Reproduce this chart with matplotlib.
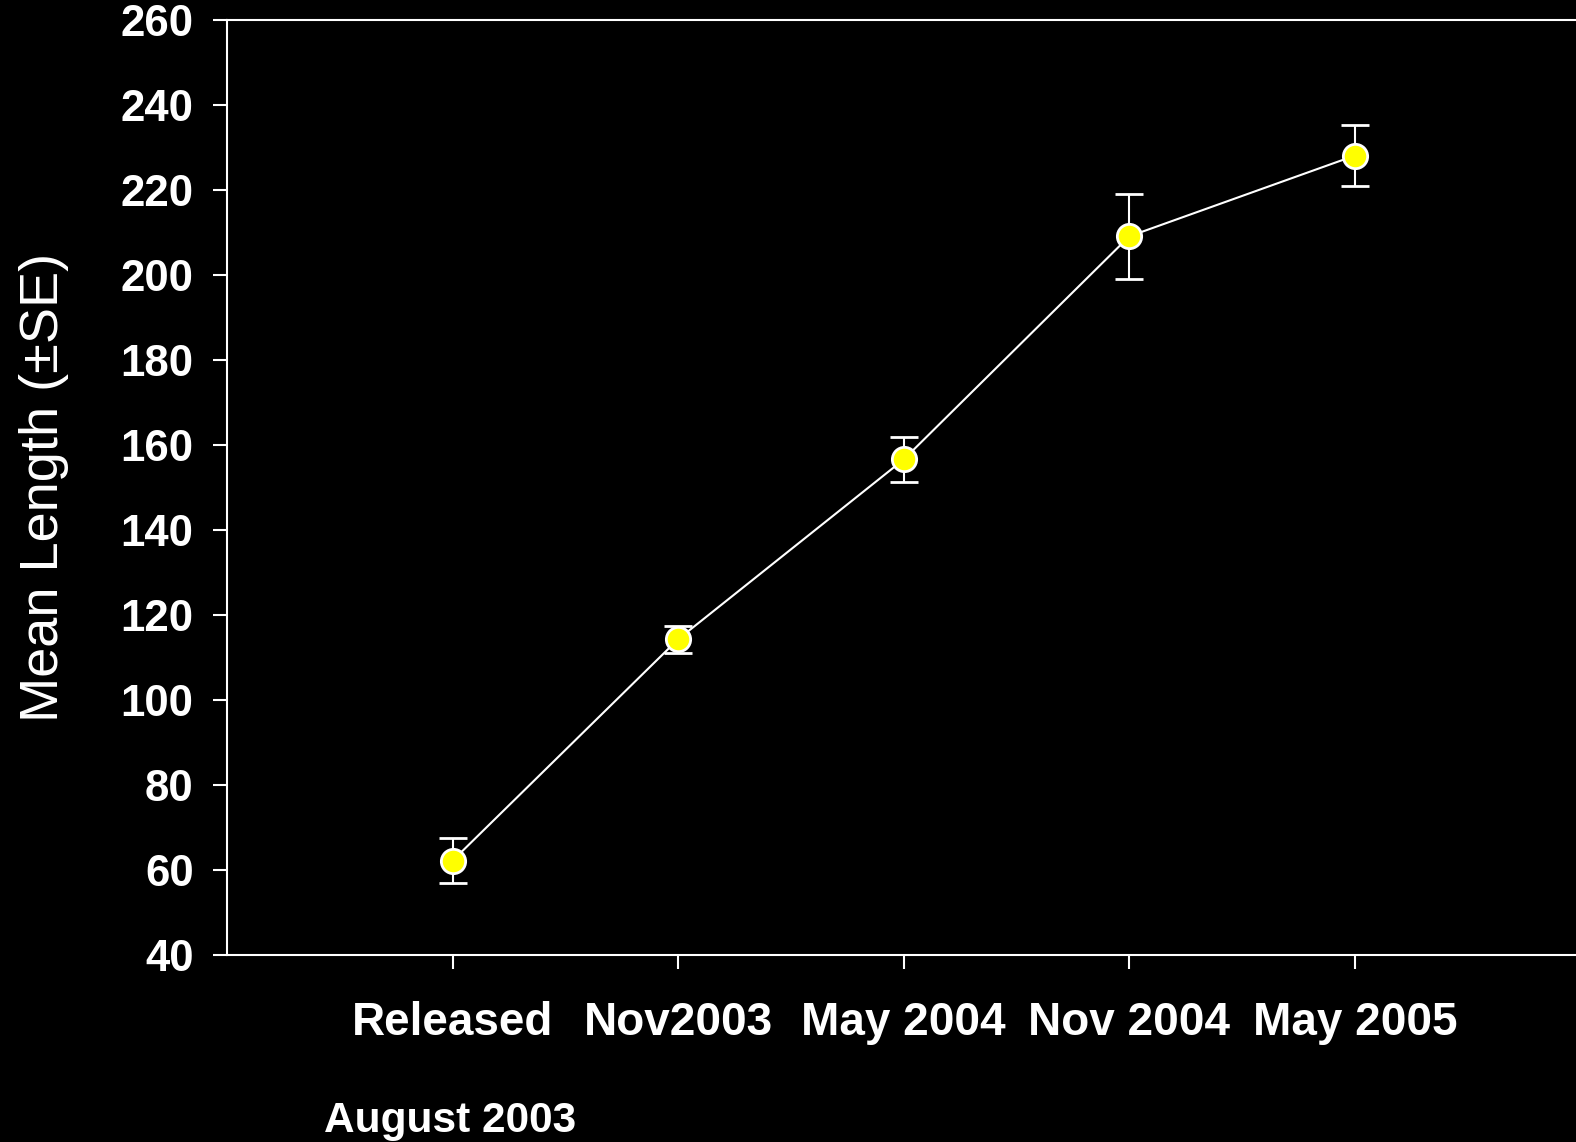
import matplotlib
matplotlib.use('Agg')
import matplotlib.pyplot as plt
import matplotlib.transforms as mtransforms

dates = ['Released', 'Nov2003', 'May 2004', 'Nov 2004', 'May 2005']
mean_length = [62.2, 114.3, 156.6, 209.1, 228.1]
se = [5.3, 3.2, 5.2, 10.0, 7.2]
y_ticks = [40, 60, 80, 100, 120, 140, 160, 180, 200, 220, 240, 260]

plt.rcParams['font.family'] = ['Liberation Sans', 'DejaVu Sans']

fig = plt.figure(figsize=(15.76, 11.42), dpi=100, facecolor='black')
ax = fig.add_axes([0.144, 0.1637, 0.856, 0.8188])
ax.set_facecolor('black')

x = list(range(1, len(dates) + 1))
ax.errorbar(x, mean_length, yerr=se, color='white', lw=1.5, elinewidth=1.5,
            capsize=10, capthick=1.5, marker='o', markersize=17.5,
            markerfacecolor='#ffff00', markeredgecolor='white', markeredgewidth=2,
            zorder=3)

ax.set_xlim(0, 5.98)
ax.set_ylim(40, 260)
ax.set_xticks(x)
ax.set_xticklabels(dates)
ax.set_yticks(y_ticks)

for side in ['left', 'bottom', 'top']:
    ax.spines[side].set_color('white')
    ax.spines[side].set_linewidth(1.5)
ax.spines['right'].set_visible(False)

ax.tick_params(axis='y', colors='white', length=10, width=1.5, pad=14,
               labelsize=31.5)
ax.tick_params(axis='x', colors='white', length=10, width=1.5, pad=23,
               labelsize=33)
for lab in ax.get_xticklabels() + ax.get_yticklabels():
    lab.set_fontweight('bold')

ax.set_ylabel('Mean Length (±SE)', color='white', fontsize=39, labelpad=37)

trans = mtransforms.blended_transform_factory(ax.transData, fig.transFigure)
ax.text(0.99, 0.0185, 'August 2003', transform=trans, color='white', fontsize=30.5,
        fontweight='bold', ha='center', va='center')

fig.savefig('out.png', dpi=100, facecolor='black')
